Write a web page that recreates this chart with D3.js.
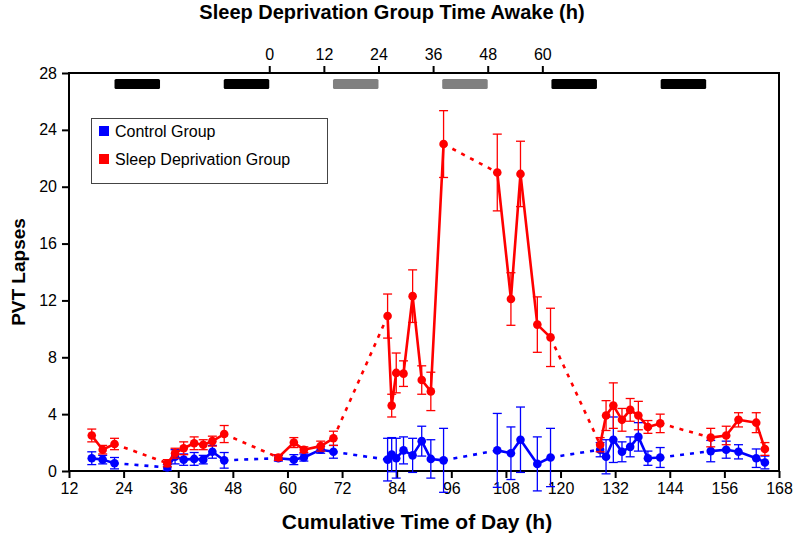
<!DOCTYPE html>
<html>
<head>
<meta charset="utf-8">
<script src="https://cdn.jsdelivr.net/npm/d3@7"></script>
<style>
  html, body { margin: 0; padding: 0; background: #fff; }
  svg { display: block; font-family: "Liberation Sans", Arial, Helvetica, sans-serif; }
</style>
</head>
<body>
<svg id="chart" width="797" height="549"></svg>
<script>
// ---------------- DATA ----------------
const timeOfDay = [17, 19.4, 22,
  33.6, 35.3, 37.2, 39.5, 41.5, 43.5, 46.1,
  58, 61.4, 63.6, 67.3, 70.1,
  82, 82.9, 83.9, 85.5, 87.5, 89.5, 91.5, 94.3,
  106.1, 109.1, 111.2, 114.9, 117.8,
  128.7, 130, 131.6, 133.5, 135.3, 137.1, 139.2, 141.9,
  153, 156.4, 159.1, 163, 164.9];
const testBlock = [1, 1, 1,
  2, 2, 2, 2, 2, 2, 2,
  3, 3, 3, 3, 3,
  4, 4, 4, 4, 4, 4, 4, 4,
  5, 5, 5, 5, 5,
  6, 6, 6, 6, 6, 6, 6, 6,
  7, 7, 7, 7, 7];
const sleepDepMean = [2.5, 1.5, 1.9,
  0.55, 1.25, 1.6, 1.95, 1.85, 2.1, 2.6,
  0.95, 2.0, 1.5, 1.75, 2.3,
  10.9, 4.6, 6.9, 6.85, 12.3, 6.4, 5.6, 23.0,
  21.0, 12.1, 20.9, 10.3, 9.4,
  1.85, 3.9, 4.6, 3.6, 4.3, 3.9, 3.1, 3.35,
  2.35, 2.5, 3.6, 3.4, 1.55];
const sleepDepSem = [0.45, 0.3, 0.4,
  0.25, 0.35, 0.45, 0.45, 0.35, 0.35, 0.6,
  0.2, 0.35, 0.2, 0.35, 0.5,
  1.55, 0.8, 1.4, 0.9, 1.85, 1.0, 1.35, 2.35,
  2.7, 1.85, 2.3, 1.95, 2.05,
  0.5, 1.05, 1.6, 0.8, 0.8, 1.0, 0.45, 0.65,
  0.65, 0.65, 0.5, 0.7, 0.45];
const controlMean = [0.9, 0.8, 0.55,
  0.25, 1.0, 0.8, 0.85, 0.8, 1.35, 0.75,
  0.9, 0.8, 0.95, 1.5, 1.35,
  0.8, 1.15, 0.9, 1.45, 1.1, 2.1, 0.85, 0.75,
  1.45, 1.25, 2.2, 0.5, 0.95,
  1.5, 1.0, 2.2, 1.35, 1.7, 2.4, 0.9, 0.95,
  1.4, 1.5, 1.35, 0.9, 0.6];
const controlSem = [0.45, 0.3, 0.4,
  0.2, 0.5, 0.4, 0.45, 0.3, 0.45, 0.55,
  0.2, 0.35, 0.25, 0.25, 0.45,
  1.5, 1.2, 1.4, 0.95, 1.2, 1.05, 1.35, 2.25,
  2.6, 1.85, 2.3, 1.9, 2.05,
  0.5, 1.2, 1.6, 0.7, 0.7, 1.0, 0.5, 0.7,
  0.75, 0.6, 0.5, 0.65, 0.45];

const sleepStart = [22, 46, 70, 94, 118, 142];
const sleepEnd = [32, 56, 80, 104, 128, 152];
const sleepDeprivedNight = [false, false, true, true, false, false];

const xTicks = [12, 24, 36, 48, 60, 72, 84, 96, 108, 120, 132, 144, 156, 168];
const yTicks = [0, 4, 8, 12, 16, 20, 24, 28];
const awakeTicks = [0, 12, 24, 36, 48, 60];
const awakeStart = 56; // cumulative hour when time awake = 0

const seriesNames = ["Control Group", "Sleep Deprivation Group"];
const seriesColors = ["#0000ff", "#ff0000"];

// ---------------- LAYOUT ----------------
const svg = d3.select("#chart");
const pLeft = 69, pRight = 779, pTop = 73, pBottom = 471;

const x = d3.scaleLinear().domain([12, 168]).range([pLeft, pRight]);
const y = d3.scaleLinear().domain([0, 28]).range([pBottom, pTop]);

// sleep bars
svg.append("g").selectAll("rect")
  .data(sleepStart.map((s, i) => ({s, e: sleepEnd[i], dep: sleepDeprivedNight[i]})))
  .join("rect")
  .attr("x", d => x(d.s)).attr("width", d => x(d.e) - x(d.s))
  .attr("y", 79).attr("height", 10).attr("rx", 1.5)
  .attr("fill", d => d.dep ? "#808080" : "#000000");

// axes
const fontTick = 16;
const xAxis = d3.axisBottom(x).tickValues(xTicks).tickSize(7).tickPadding(5).tickFormat(d3.format("d"));
const gx = svg.append("g").attr("transform", `translate(0,${pBottom})`).call(xAxis);
const yAxis = d3.axisLeft(y).tickValues(yTicks).tickSize(7).tickPadding(5).tickFormat(d3.format("d"));
const gy = svg.append("g").attr("transform", `translate(${pLeft},0)`).call(yAxis);
const xTop = d3.scaleLinear().domain([12 - awakeStart, 168 - awakeStart]).range([pLeft, pRight]);
const topAxis = d3.axisTop(xTop).tickValues(awakeTicks).tickSize(7).tickPadding(6).tickFormat(d3.format("d"));
const gt = svg.append("g").attr("transform", `translate(0,${pTop})`).call(topAxis);

[gx, gy, gt].forEach(g => {
  g.select(".domain").remove();
  g.selectAll(".tick line").attr("stroke", "#000").attr("stroke-width", 2);
  g.selectAll(".tick text").attr("fill", "#000")
    .style("font-size", fontTick + "px")
    .style("font-family", "'Liberation Sans', Arial, sans-serif");
});

// frame
svg.append("rect").attr("x", pLeft).attr("y", pTop)
  .attr("width", pRight - pLeft).attr("height", pBottom - pTop)
  .attr("fill", "none").attr("stroke", "#000").attr("stroke-width", 2);

// ---------------- SERIES ----------------
function drawSeries(means, sems, color) {
  const pts = timeOfDay.map((t, i) => ({t, v: means[i], e: sems[i], b: testBlock[i]}));
  const g = svg.append("g");
  const eb = g.append("g").attr("stroke", color).attr("stroke-width", 1.3).attr("fill", "none");
  pts.forEach(p => {
    eb.append("line").attr("x1", x(p.t)).attr("x2", x(p.t)).attr("y1", y(p.v - p.e)).attr("y2", y(p.v + p.e));
    eb.append("line").attr("x1", x(p.t) - 4.5).attr("x2", x(p.t) + 4.5).attr("y1", y(p.v + p.e)).attr("y2", y(p.v + p.e));
    eb.append("line").attr("x1", x(p.t) - 4.5).attr("x2", x(p.t) + 4.5).attr("y1", y(p.v - p.e)).attr("y2", y(p.v - p.e));
  });
  const line = d3.line().x(d => x(d.t)).y(d => y(d.v));
  const blocks = d3.groups(pts, d => d.b).map(d => d[1]);
  for (let i = 0; i < blocks.length - 1; i++) {
    const a = blocks[i][blocks[i].length - 1], b = blocks[i + 1][0];
    g.append("path").attr("d", line([a, b])).attr("fill", "none")
      .attr("stroke", color).attr("stroke-width", 2.6).attr("stroke-dasharray", "4,6");
  }
  blocks.forEach(bl => {
    g.append("path").attr("d", line(bl)).attr("fill", "none")
      .attr("stroke", color).attr("stroke-width", 2.6).attr("stroke-linejoin", "round");
  });
  g.append("g").selectAll("circle").data(pts).join("circle")
    .attr("cx", d => x(d.t)).attr("cy", d => y(d.v)).attr("r", 4.3).attr("fill", color);
}
drawSeries(controlMean, controlSem, seriesColors[0]);
drawSeries(sleepDepMean, sleepDepSem, seriesColors[1]);

// ---------------- LEGEND ----------------
const lg = svg.append("g");
lg.append("rect").attr("x", 91.5).attr("y", 118.5).attr("width", 236).attr("height", 65)
  .attr("fill", "#fff").attr("stroke", "#444").attr("stroke-width", 1);
seriesNames.forEach((n, i) => {
  const cy = 131 + i * 28;
  lg.append("rect").attr("x", 99).attr("y", cy - 5).attr("width", 10).attr("height", 10).attr("fill", seriesColors[i]);
  lg.append("text").attr("x", 115).attr("y", cy + 5.5).text(n)
    .style("font-size", "16px").attr("fill", "#000");
});

// ---------------- TITLES ----------------
svg.append("text").attr("x", 392).attr("y", 19).attr("text-anchor", "middle")
  .style("font-size", "20px").style("font-weight", "bold")
  .text("Sleep Deprivation Group Time Awake (h)");
svg.append("text").attr("x", 417).attr("y", 529).attr("text-anchor", "middle")
  .style("font-size", "21px").style("font-weight", "bold")
  .text("Cumulative Time of Day (h)");
svg.append("text").attr("transform", "translate(25,272) rotate(-90)").attr("text-anchor", "middle")
  .style("font-size", "19px").style("font-weight", "bold")
  .text("PVT Lapses");
</script>
</body>
</html>
